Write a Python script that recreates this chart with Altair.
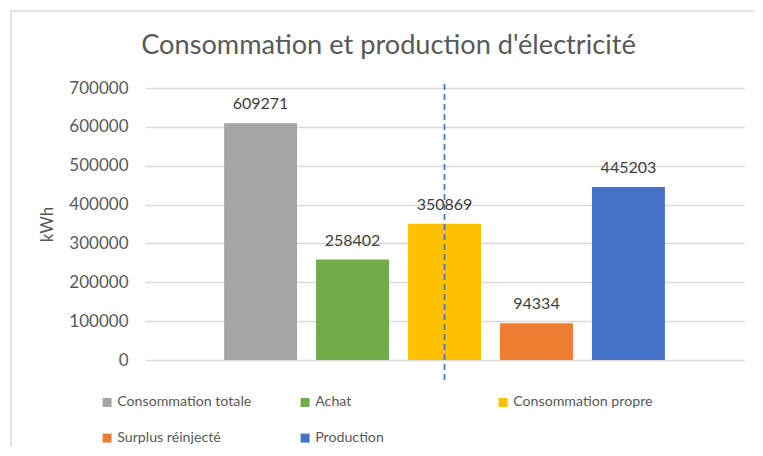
import altair as alt
import pandas as pd

categories = ["Consommation totale", "Achat", "Consommation propre", "Surplus réinjecté", "Production"]
values = [609271, 258402, 350869, 94334, 445203]
colors = ["#A5A5A5", "#70AD47", "#FFC000", "#ED7D31", "#4472C4"]
y_ticks = [0, 100000, 200000, 300000, 400000, 500000, 600000, 700000]
marker_category = "Consommation propre"

df = pd.DataFrame({"cat": categories, "val": values})
FONT = "Lato"

x_enc = alt.X("cat:N", sort=categories, axis=None,
              scale=alt.Scale(paddingInner=0.207, paddingOuter=0.86))
y_enc = alt.Y("val:Q", scale=alt.Scale(domain=[0, 700000], nice=False),
              axis=alt.Axis(values=y_ticks, title="kWh", format="d", domain=False, ticks=False,
                            labelFont=FONT, labelFontSize=17, labelColor="#595959",
                            labelPadding=17, titleFont=FONT, titleFontSize=17,
                            titleColor="#595959", titleFontWeight="normal", titlePadding=12,
                            gridColor="#D9D9D9", gridWidth=1.3))

bars = alt.Chart(df).mark_bar().encode(
    x=x_enc,
    y=y_enc,
    color=alt.Color("cat:N", scale=alt.Scale(domain=categories, range=colors),
                    legend=alt.Legend(title=None, orient="none", legendX=-45, legendY=307,
                                      direction="horizontal", columns=3, gridAlign="all",
                                      columnPadding=41, rowPadding=21, symbolType="square",
                                      symbolSize=81, symbolStrokeWidth=0, labelFont=FONT,
                                      labelFontSize=14.2, labelColor="#595959", labelLimit=400,
                                      symbolOffset=0, labelOffset=3)),
)

labels = alt.Chart(df).mark_text(baseline="bottom", dy=-11, font=FONT, fontSize=16,
                                 color="#404040").encode(
    x=x_enc, y=y_enc, text=alt.Text("val:Q", format="d"))

marker = alt.Chart(pd.DataFrame({"cat": [marker_category]})).mark_rule(
    color="#4A7EBB", strokeDash=[6, 4], strokeWidth=1.8).encode(
    x=x_enc, y=alt.value(-4), y2=alt.value(292))

frame = alt.Chart(pd.DataFrame({"a": [0]})).mark_rect(
    fill=None, stroke="#D9D9D9", strokeWidth=1.5).encode(
    x=alt.value(-134), x2=alt.value(700), y=alt.value(-77), y2=alt.value(450))

chart = alt.layer(frame, bars, labels, marker).properties(
    width=599, height=272,
    padding={"left": 137, "top": 80, "right": 10, "bottom": 87},
    autosize=alt.AutoSizeParams(type="none"),
    background="white",
    title=alt.TitleParams("Consommation et production d'électricité", font=FONT, fontSize=27.2,
                          fontWeight="normal", color="#595959", anchor="middle", dx=-56,
                          offset=0, baseline="bottom", dy=77, frame="group"),
).configure_view(stroke=None)

chart.save("out.html", embed_options={"renderer": "svg", "actions": False})
